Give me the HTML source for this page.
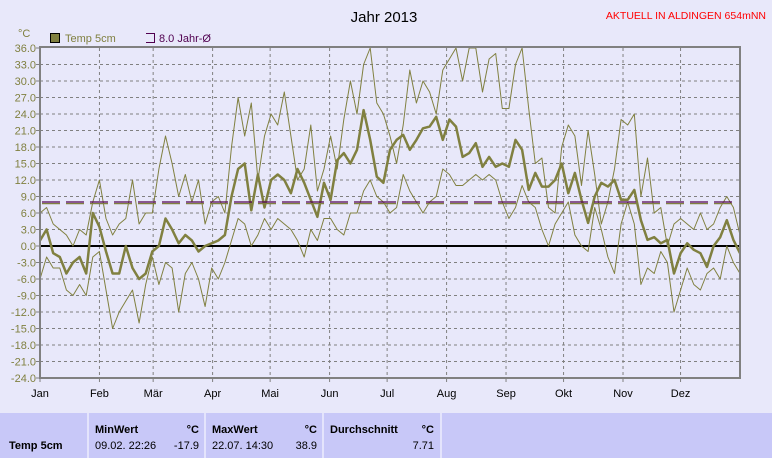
<!DOCTYPE html>
<html><head><meta charset="utf-8"><style>
body{margin:0;background:#e8e8fa;font-family:"Liberation Sans",sans-serif;}
svg{display:block}
</style></head><body>
<svg id="chart" width="772" height="458" xmlns="http://www.w3.org/2000/svg">
<rect x="0" y="0" width="772" height="458" fill="#e8e8fa"/>
<text x="384" y="22" font-size="15" text-anchor="middle" fill="#000">Jahr 2013</text>
<text x="766" y="19" font-size="10.5" text-anchor="end" fill="#ff0000">AKTUELL IN ALDINGEN 654mNN</text>
<text x="18" y="37" font-size="11" fill="#808040">°C</text>
<g>
<rect x="50.5" y="33.5" width="9" height="9" fill="#808040" stroke="#000"/>
<text x="65" y="42" font-size="11" fill="#808040">Temp 5cm</text>
</g>
<g>
<path d="M146,33.5 H154.5 V42.5 H146" fill="none" stroke="#500050"/>
<text x="159" y="42" font-size="11" fill="#500050">8.0 Jahr-Ø</text>
</g>
<g id="grid"></g>
<g id="axes"></g>
<g id="series"></g>
<rect x="40" y="47" width="700" height="331" fill="none" stroke="#808080" stroke-width="2"/>
<g>
<rect x="0" y="413" width="772" height="45" fill="#c8c8f8"/>
<line x1="88" y1="413" x2="88" y2="458" stroke="#fff"/>
<line x1="205" y1="413" x2="205" y2="458" stroke="#fff"/>
<line x1="323" y1="413" x2="323" y2="458" stroke="#fff"/>
<line x1="441" y1="413" x2="441" y2="458" stroke="#fff"/>
<g font-size="11" fill="#000">
<text x="9" y="449" font-weight="bold">Temp 5cm</text>
<text x="95" y="433" font-weight="bold">MinWert</text>
<text x="199" y="433" font-weight="bold" text-anchor="end">°C</text>
<text x="95" y="449">09.02.  22:26</text>
<text x="199" y="449" text-anchor="end">-17.9</text>
<text x="212" y="433" font-weight="bold">MaxWert</text>
<text x="317" y="433" font-weight="bold" text-anchor="end">°C</text>
<text x="212" y="449">22.07.  14:30</text>
<text x="317" y="449" text-anchor="end">38.9</text>
<text x="330" y="433" font-weight="bold">Durchschnitt</text>
<text x="434" y="433" font-weight="bold" text-anchor="end">°C</text>
<text x="434" y="449" text-anchor="end">7.71</text>
</g>
</g>
</svg>
<script>
const months = ["Jan","Feb","Mär","Apr","Mai","Jun","Jul","Aug","Sep","Okt","Nov","Dez"];
const monthStartDays = [0,31,59,90,120,151,181,212,243,273,304,334];
const yTicks = [36,33,30,27,24,21,18,15,12,9,6,3,0,-3,-6,-9,-12,-15,-18,-21,-24];
const meanTemp = [1,3,-1.3,-2,-5,-3,-2,-5,6,3.5,-1,-5,-5,0,-4,-6,-5,-1,0,5,3,0.5,2,1,-1,0,0.5,1,2,9,14,15,6.5,13,7,12,
13,12,9.6,14,11.5,8.4,5.3,11.5,8.4,15.6,16.9,15,17.5,24.7,19.3,12.6,11.5,17.5,19.3,20.2,17.5,19.3,21.4,21.7,23.5,19.3,23,21.7,16.2,16.9,18.7,14.4,16.2,14.4,15,
14.4,19.3,17.5,10.2,13.3,10.8,10.8,12,15,9.6,13.3,8.4,4.2,9,11.5,10.8,12,8.4,8.4,10.2,4.7,1.1,1.6,0.5,1.1,-5,-1.3,0.5,-0.7,-1.3,-3.8,0,1.6,4.7,1.1,-1.3];
const maxTemp = [6,7,4,3,2,0,3,2,8,12,5,2,4,5,12,4,6,6,14,20,15,9,13,8,12,4,8,9,6,18,27,20,26,12,20,24,
22,28,20,12,14,22,10,14,20,14,23,30,24,33,36,26,24,20,15,22,32,26,30,28,24,32,34,36,30,36,36,28,34,35,25,
25,33,36,25,15,16,7,6,18,22,20,11,21,13,4,8,14,23,22,24,9,16,6,7,0,4,5,4,3,6,3,4,7,9,7,2];
const minTemp = [-6,-2,-4,-4,-8,-9,-7,-9,-2,-1,-8,-15,-12,-10,-8,-14,-7,-2,-7,-3,-4,-12,-5,-3,-6,-11,-4,-6,-3,1,5,4,0,2,5,3,
5,4,3,1,-2,3,1,5,5,3,2,6,6,10,12,9,8,6,7,13,10,8,6,8,9,14,13,11,11,12,13,12,13,12,8,
5,7,11,8,7,3,0,4,6,8,2,0,-1,7,3,-2,-5,4,8,4,-7,-4,-5,-1,-3,-12,-8,-4,-7,-8,-5,-4,-6,0,-3,-5];
const yearAvg = 8.0;
const seriesAvg = 7.71;

const NS="http://www.w3.org/2000/svg";
const L=40,R=740,T=48,B=378,YMIN=-24,YMAX=36;
function yScale(v){return B-(v-YMIN)/(YMAX-YMIN)*(B-T);}
function dayX(d){return L+d/365*(R-L);}
function idxX(i,n){return L+i*(R-L)/(n-1);}
function mk(tag,attrs,parent){const e=document.createElementNS(NS,tag);for(const k in attrs)e.setAttribute(k,attrs[k]);parent.appendChild(e);return e;}
const grid=document.getElementById('grid'),axes=document.getElementById('axes'),series=document.getElementById('series');
yTicks.forEach(v=>{
  const y=yScale(v);
  if(v!==0&&v!==YMAX&&v!==YMIN){const g=mk('line',{x1:L,x2:R,y1:y,y2:y,stroke:'#808080','stroke-dasharray':'3,3'},grid);
  
  }
  const t=mk('line',{x1:L-4,x2:L,y1:y,y2:y,stroke:'#808080'},axes);
  
  
  const tx=mk('text',{x:L-4,y:y+4,'font-size':11,'text-anchor':'end',fill:'#808040'},axes);
  tx.textContent=v.toFixed(1);
  
  
});
months.forEach((m,i)=>{
  const x=dayX(monthStartDays[i]);
  if(i>0){const g=mk('line',{x1:x,x2:x,y1:T,y2:B,stroke:'#808080','stroke-dasharray':'3,3'},grid);
  
  }
  const tk=mk('line',{x1:x,x2:x,y1:B,y2:B+4,stroke:'#808080'},axes);
  
  
  const tx=mk('text',{x:x,y:397,'font-size':11,'text-anchor':'middle',fill:'#000'},axes);
  tx.textContent=m;
  
  
});
const zl=mk('line',{x1:L,x2:R,y1:yScale(0),y2:yScale(0),stroke:'#000','stroke-width':2},series);


const clip=mk('clipPath',{id:'pc'},series);mk('rect',{x:L,y:T-1,width:R-L,height:B-T+1},clip);
function line(arr,w,name){
  const d=arr.map((v,i)=>(i?'L':'M')+idxX(i,arr.length).toFixed(1)+','+yScale(v).toFixed(1)).join(' ');
  const p=mk('path',{d:d,fill:'none',stroke:'#808040','stroke-width':w,'clip-path':'url(#pc)','stroke-linejoin':'round'},series);
  
  
}
line(maxTemp,1,'max-temp-line');
line(minTemp,1,'min-temp-line');
line(meanTemp,2.5,'mean-temp-line');
const a1=mk('line',{x1:L+2,x2:R-2,y1:yScale(yearAvg),y2:yScale(yearAvg),stroke:'#500050','stroke-width':1.2,'stroke-dasharray':'18,6'},series);


const a2=mk('line',{x1:L+2,x2:R-2,y1:yScale(seriesAvg),y2:yScale(seriesAvg),stroke:'#808040','stroke-width':1.2,'stroke-dasharray':'18,6'},series);


</script>
</body></html>
